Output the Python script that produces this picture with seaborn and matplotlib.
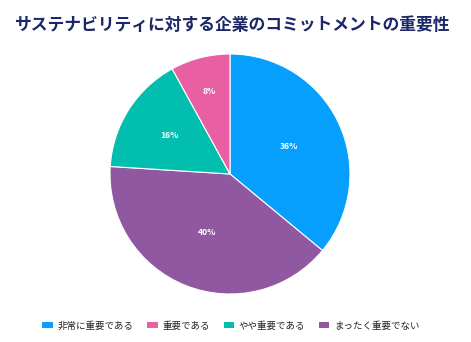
import matplotlib
matplotlib.use("Agg")
import numpy as np
import matplotlib.pyplot as plt
from matplotlib.patches import Patch
import seaborn as sns

sns.set_theme(style="white")
plt.rcParams["font.family"] = ["Noto Sans CJK JP", "DejaVu Sans"]

title = "サステナビリティに対する企業のコミットメントの重要性"
categories = ["非常に重要である", "重要である", "やや重要である", "まったく重要でない"]
values = [36, 8, 16, 40]
colors = sns.color_palette(["#069FFD", "#E85FA3", "#02BEAE", "#9058A0"])

# slices clockwise from the top: 36, then 40, 16, 8
order = [0, 3, 2, 1]
pie_vals = [values[i] for i in order]
pie_cols = [colors[i] for i in order]
# radial position of each percentage label (fraction of the radius)
label_radius = [0.54, 0.52, 0.60, 0.71]

fig = plt.figure(figsize=(4.71, 3.42), dpi=100)
fig.patch.set_facecolor("white")

cx, cy, r = 230, 174, 120
W, H = 471, 342
ax = fig.add_axes([(cx - r) / W, (H - cy - r) / H, 2 * r / W, 2 * r / H])

wedges, texts, autotexts = ax.pie(
    pie_vals,
    colors=pie_cols,
    startangle=90,
    counterclock=False,
    autopct="%d%%",
    pctdistance=0.54,
    wedgeprops=dict(edgecolor="white", linewidth=0.8),
    textprops=dict(color="white", fontsize=6.2, fontweight="bold"),
)
for w, t, d in zip(wedges, autotexts, label_radius):
    ang = np.deg2rad((w.theta1 + w.theta2) / 2)
    t.set_position((d * np.cos(ang), d * np.sin(ang)))

ax.set_xlim(-1.0, 1.0)
ax.set_ylim(-1.0, 1.0)
ax.set_aspect("equal")
ax.axis("off")

fig.text(232 / W, 1 - 25 / H, title, ha="center", va="center",
         fontsize=12.1, fontweight="bold", color="#1B2768")

handles = [Patch(facecolor=c, edgecolor="none") for c in colors]
fig.legend(handles, categories, loc="center", bbox_to_anchor=(231 / W, 1 - 326 / H),
           ncol=4, frameon=False, fontsize=6.8, handlelength=1.1, handleheight=0.6,
           handletextpad=0.5, columnspacing=1.45, labelcolor="#222222")

fig.savefig("out.png", dpi=100, facecolor="white")
